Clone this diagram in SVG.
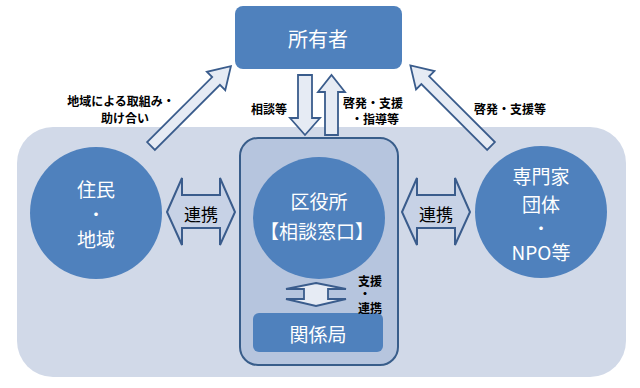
<svg xmlns="http://www.w3.org/2000/svg" width="640" height="388" viewBox="0 0 640 388">
<defs>
<style>
.blue{fill:#4f81bd;}
.wt{fill:#ffffff;font-family:"Noto Sans CJK JP","Noto Sans",sans-serif;text-anchor:middle;dominant-baseline:central;}
.lb{fill:#000000;font-family:"Noto Sans CJK JP","Noto Sans",sans-serif;font-size:12px;font-weight:bold;text-anchor:middle;dominant-baseline:central;}
.arr{fill:#e6ebf4;stroke:#3a5c8c;stroke-width:1.8;stroke-linejoin:miter;}
.dbl{fill:#c7d2e6;stroke:#3a5c8c;stroke-width:2;stroke-linejoin:miter;}
.lk{fill:#000000;font-family:"Noto Sans CJK JP","Noto Sans",sans-serif;font-size:17px;text-anchor:middle;dominant-baseline:central;}
</style>
</defs>
<rect x="0" y="0" width="640" height="388" fill="#ffffff"/>
<rect id="panel" x="17" y="127" width="609" height="250" rx="36" fill="#d1d9e8"/>
<g id="shoyusha">
<rect class="blue" x="235" y="6" width="167" height="63" rx="8"/>
<text class="wt" x="318" y="38" font-size="20">所有者</text>
</g>
<g id="kuyakusho-frame">
<rect x="240" y="138" width="158" height="227" rx="18" fill="#b6c5de" stroke="#385d8a" stroke-width="2"/>
</g>
<g id="kuyakusho">
<ellipse class="blue" cx="319" cy="218" rx="66" ry="61"/>
<text class="wt" x="319" y="200" font-size="19">区役所</text>
<text class="wt" x="317" y="230" font-size="19">【相談窓口】</text>
</g>
<g id="kankeikyoku">
<rect class="blue" x="253" y="313" width="130" height="39" rx="6"/>
<text class="wt" x="318" y="333" font-size="19">関係局</text>
</g>
<g id="jumin">
<circle class="blue" cx="96" cy="213" r="66"/>
<text class="wt" x="96" y="188" font-size="19">住民</text>
<text class="wt" x="96" y="213" font-size="14" font-weight="bold">・</text>
<text class="wt" x="96" y="238" font-size="19">地域</text>
</g>
<g id="senmonka">
<circle class="blue" cx="541" cy="212" r="66"/>
<text class="wt" x="541" y="175" font-size="19">専門家</text>
<text class="wt" x="541" y="203" font-size="19">団体</text>
<text class="wt" x="541" y="227" font-size="14" font-weight="bold">・</text>
<text class="wt" x="541" y="251" font-size="19">NPO等</text>
</g>
<g id="connectors">
<polygon class="arr" transform="translate(151,146) rotate(-45)" points="0,-5.5 92,-5.5 92,-13 113,0 92,13 92,5.5 0,5.5"/>
<polygon class="arr" transform="translate(491,146) rotate(-135)" points="0,-5.5 93,-5.5 93,-13 114,0 93,13 93,5.5 0,5.5"/>
<polygon class="arr" points="298,75 312,75 312,118 320,118 305,135 290,118 298,118"/>
<polygon class="arr" points="325,135 338,135 338,92 345,92 331.5,75 318,92 325,92"/>
<polygon class="dbl" points="167,212 182,178 182,195 220,195 220,178 235,212 220,245 220,228 182,228 182,245"/>
<polygon class="dbl" points="402,212 417,178 417,195 455,195 455,178 470,212 455,245 455,228 417,228 417,245"/>
<polygon class="arr" points="316,283 346,289 328,289 328,299 346,299 316,306 286,299 304,299 304,289 286,289"/>
<text class="lb" x="121" y="100">地域による取組み・</text>
<text class="lb" x="125" y="117">助け合い</text>
<text class="lb" x="269" y="108">相談等</text>
<text class="lb" x="373" y="102">啓発・支援</text>
<text class="lb" x="375" y="118">・指導等</text>
<text class="lb" x="510" y="108">啓発・支援等</text>
<text class="lb" x="370" y="280.5" font-size="11">支援</text>
<text class="lb" x="365" y="293.8" font-size="7">・</text>
<text class="lb" x="370" y="307" font-size="11">連携</text>
<text class="lk" x="201" y="213">連携</text>
<text class="lk" x="436" y="213">連携</text>
</g>
</svg>
